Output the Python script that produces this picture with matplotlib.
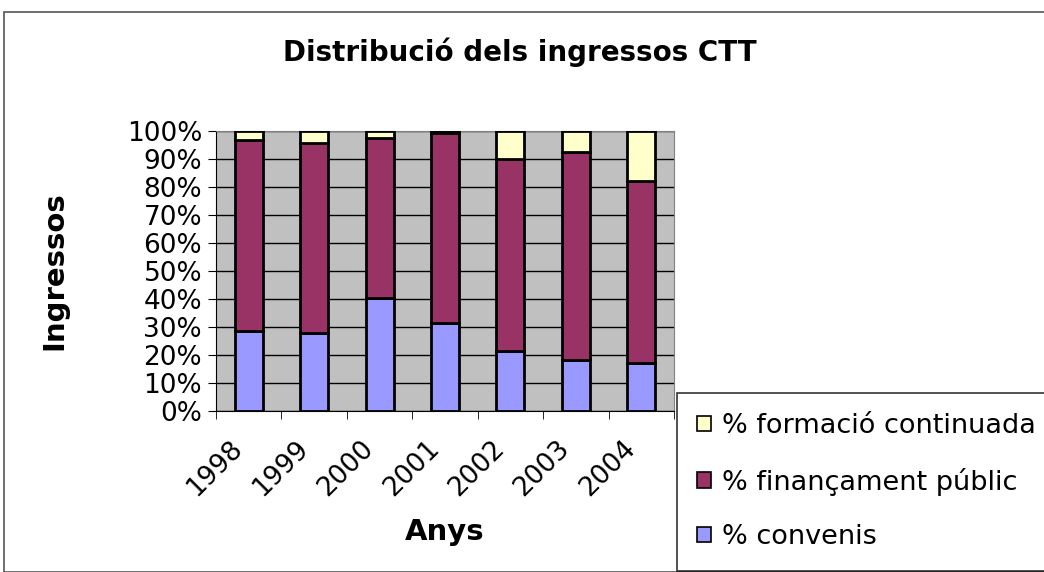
import numpy as np
import matplotlib.pyplot as plt
from matplotlib.patches import Rectangle

anys = ['1998', '1999', '2000', '2001', '2002', '2003', '2004']
convenis = [28.7, 28.0, 40.3, 31.3, 21.4, 18.2, 17.3]
financament = [68.0, 67.8, 57.2, 67.9, 68.7, 74.4, 64.8]
formacio = [3.3, 4.2, 2.5, 0.8, 9.9, 7.4, 17.9]

noms = ['% convenis', '% finançament públic', '% formació continuada']
colors = ['#9999FF', '#993366', '#FFFFCC']

plt.rcParams['font.family'] = ['DejaVu Sans']

fig = plt.figure(figsize=(10.44, 5.72), dpi=100)
# outer frame of the chart area
fig.patches.append(Rectangle((4 / 1044, 0), 1.2, 1 - 12 / 572, transform=fig.transFigure,
                             fill=False, edgecolor='#555555', lw=1.2))

ax = fig.add_axes([216 / 1044, 1 - 411 / 572, 458 / 1044, 280 / 572])
ax.set_facecolor('#C0C0C0')

x = np.arange(len(anys))
w = 0.43
bottom = np.zeros(len(anys))
for vals, c, n in zip([convenis, financament, formacio], colors, noms):
    ax.bar(x, vals, w, bottom=bottom, color=c, edgecolor='black', linewidth=2, label=n, zorder=3)
    bottom += np.array(vals)

ax.set_xlim(-0.5, len(anys) - 0.5)
ax.set_ylim(0, 100)
ax.set_yticks(np.arange(0, 101, 10))
ax.set_yticklabels([f'{v}%' for v in range(0, 101, 10)], fontsize=19)
ax.yaxis.grid(True, color='black', lw=1, zorder=1)
ax.set_axisbelow(True)

ax.set_xticks(x - 0.15)
ax.set_xticklabels(anys, rotation=45, fontsize=19, ha='right', va='center', rotation_mode='anchor')
ax.set_xticks(np.arange(-0.5, len(anys), 1), minor=True)
ax.tick_params(axis='x', which='major', length=0, pad=24)
ax.tick_params(axis='x', which='minor', length=6, color='black')
ax.tick_params(axis='y', length=6, pad=4)

for s in ['top', 'right']:
    ax.spines[s].set_color('#808080')
for s in ['left', 'bottom']:
    ax.spines[s].set_color('black')

ax.set_xlabel('Anys', fontsize=21, fontweight='bold', labelpad=12)
ax.set_ylabel('Ingressos', fontsize=21, fontweight='bold', labelpad=42)

fig.text(520 / 1044, 1 - 52 / 572, 'Distribució dels ingressos CTT', fontsize=20,
         fontweight='bold', ha='center', va='center')

h, l = ax.get_legend_handles_labels()
leg = fig.legend(h[::-1], l[::-1], loc='upper left', bbox_to_anchor=(677 / 1044, 1 - 393 / 572),
                 fontsize=19.5, frameon=True, fancybox=False, edgecolor='black',
                 handlelength=0.5, handleheight=0.5, handletextpad=0.4,
                 labelspacing=1.05, borderpad=0.75, borderaxespad=0)
leg.get_frame().set_linewidth(1.2)
for p in leg.get_patches():
    p.set_linewidth(1.2)

fig.savefig('out.png', dpi=100)
